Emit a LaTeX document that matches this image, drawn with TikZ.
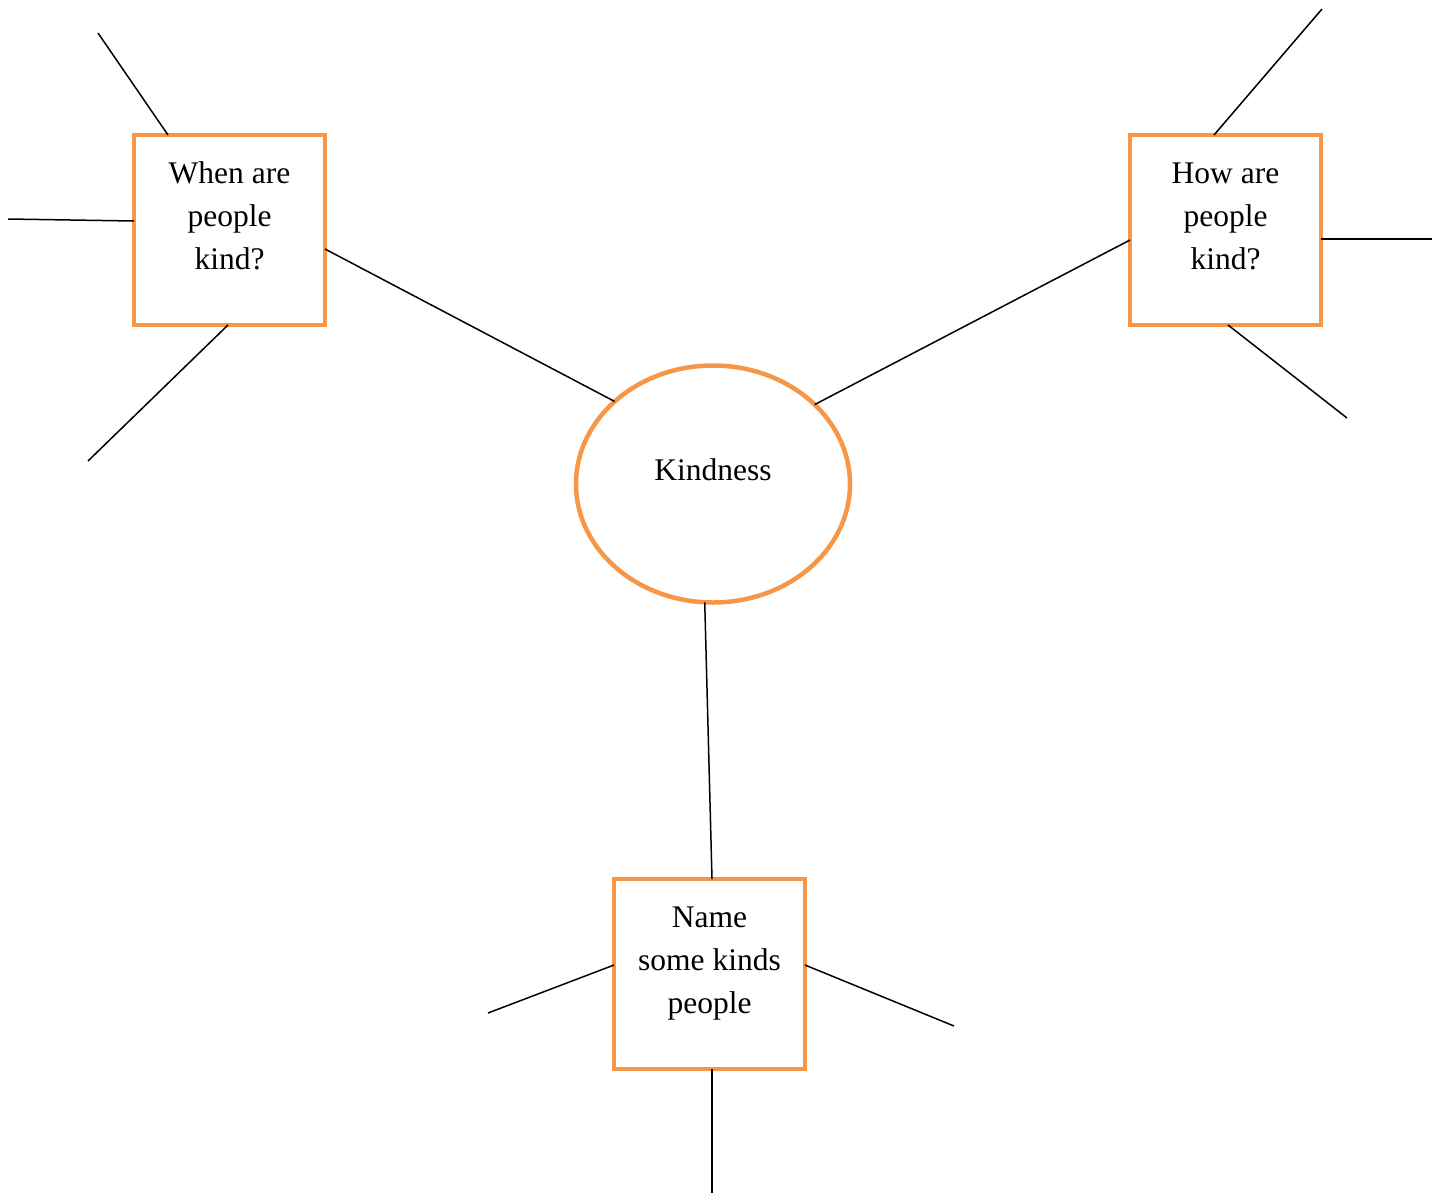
\documentclass[tikz,border=0pt]{standalone}
\usepackage{fontspec}
\setmainfont{Liberation Serif}
\usetikzlibrary{shapes.geometric}
\definecolor{accent}{HTML}{F79646}
\begin{document}
\begin{tikzpicture}[x=1pt,y=-1pt,
 qbox/.style={draw=accent,line width=4.5pt,minimum width=191pt,minimum height=190pt,outer sep=0pt,inner sep=0pt},
 hub/.style={ellipse,draw=accent,line width=4.5pt,minimum width=274pt,minimum height=237pt,outer sep=0pt,inner sep=0pt},
 txt/.style={align=center,font=\fontsize{31.5}{43}\selectfont,inner sep=0pt},
 link/.style={draw=black,line width=1.5pt}]
\useasboundingbox (0,0) rectangle (1439,1194);
% shapes
\node[qbox] (L) at (229.5,230) {};
\node[qbox] (R) at (1225.5,230) {};
\node[qbox] (B) at (709.5,974) {};
\node[hub] (K) at (713,484) {};
% texts
\node[txt] (Lt) at (229.5,216) {When are\\people\\kind?};
\node[txt] (Rt) at (1225.5,216) {How are\\people\\kind?};
\node[txt] (Bt) at (709.5,964) {Name\\some kinds\\people};
\node[txt] (Kt) at (713,470) {Kindness};
% free ends
\coordinate (L1) at (98,33);
\coordinate (L2) at (8,219);
\coordinate (L3) at (88,461);
\coordinate (R1) at (1322,9);
\coordinate (R2) at (1432,239);
\coordinate (R3) at (1347,418);
\coordinate (B1) at (488,1013);
\coordinate (B2) at (954,1026);
\coordinate (B3) at (712,1193);
% connectors
\draw[link] ([xshift=34pt]L.north west) -- (L1);
\draw[link] ([yshift=9pt]L.west) -- (L2);
\draw[link] ([xshift=-1.5pt]L.south) -- (L3);
\draw[link] ([yshift=-19pt]L.east) -- (K.140.6);
\draw[link] ([xshift=84pt]R.north west) -- (R1);
\draw[link] ([yshift=-9pt]R.east) -- (R2);
\draw[link] ([xshift=2.5pt]R.south) -- (R3);
\draw[link] ([yshift=-10pt]R.west) -- (K.38.3);
\draw[link] (K.266.7) -- ([xshift=2.5pt]B.north);
\draw[link] ([yshift=9pt]B.west) -- (B1);
\draw[link] ([yshift=9pt]B.east) -- (B2);
\draw[link] ([xshift=2.5pt]B.south) -- (B3);
\end{tikzpicture}
\end{document}
